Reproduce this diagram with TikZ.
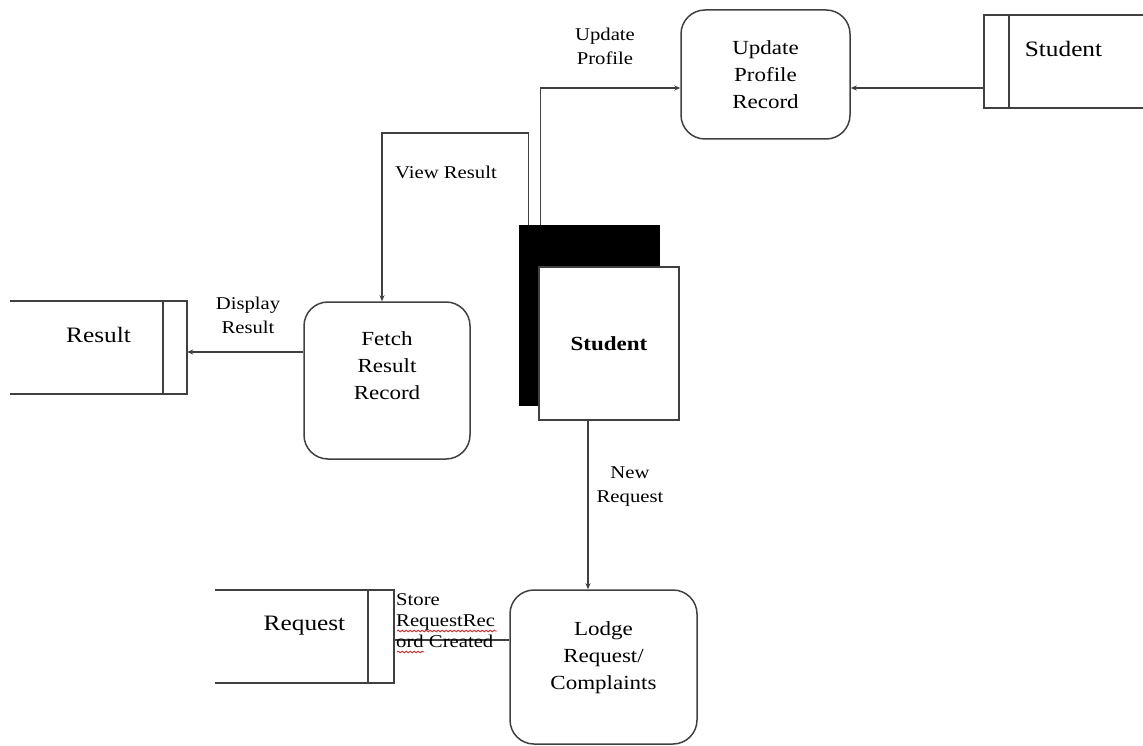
\documentclass[tikz,border=0pt]{standalone}
\usepackage{fontspec}
\setmainfont{Liberation Serif}[FakeStretch=1.15]
\usepackage{tikz}
\usetikzlibrary{
    positioning,
    arrows.meta,
    decorations.pathmorphing
}
\definecolor{LineGray}{RGB}{64,64,64}
\definecolor{SpellRed}{RGB}{220,40,40}

\begin{document}
\begin{tikzpicture}[
    x=1pt, y=-1pt,
    proc/.style={rectangle, draw=LineGray, line width=1.5pt, rounded corners=24pt, align=center, inner sep=0pt, font=\fontsize{20}{27}\selectfont},
    store/.style={rectangle, inner sep=0pt, minimum height=93pt, text depth=26pt, font=\fontsize{22}{26}\selectfont},
    storeline/.style={draw=LineGray, line width=1.5pt},
    flow/.style={draw=LineGray, line width=1.3pt, -{Stealth[length=6pt,width=5pt]}},
    link/.style={draw=LineGray, line width=1.3pt},
    lbl/.style={align=center, inner sep=0pt, font=\fontsize{18}{24}\selectfont},
    spell/.style={draw=SpellRed, line width=0.8pt, decorate, decoration={snake, amplitude=0.9pt, segment length=4pt}},
]
\useasboundingbox (0,0) rectangle (1143,746);

% processes
\node[proc, minimum width=169pt, minimum height=129pt] (upd) at (765.5,74.5) {Update\\Profile\\Record};
\node[proc, minimum width=166pt, minimum height=157pt, text depth=29pt] (fetch) at (387,380.5) {Fetch\\Result\\Record};
\node[proc, minimum width=187pt, minimum height=154pt, text depth=23pt] (lodge) at (603.5,667) {Lodge\\Request/\\Complaints};

% data stores
\node[store, minimum width=177pt] (result) at (98.5,347.5) {Result};
\node[store, minimum width=179pt] (req) at (304.5,636.5) {Request};
\node[store, minimum width=159pt] (stu) at (1063.5,61.5) {Student};

\draw[storeline] (result.north west) -- (result.north east) -- (result.south east) -- (result.south west);
\draw[storeline] ([xshift=-24pt]result.north east) -- ([xshift=-24pt]result.south east);
\draw[storeline] (req.north west) -- (req.north east) -- (req.south east) -- (req.south west);
\draw[storeline] ([xshift=-26pt]req.north east) -- ([xshift=-26pt]req.south east);
\draw[storeline] (stu.north east) -- (stu.north west) -- (stu.south west) -- (stu.south east);
\draw[storeline] ([xshift=25pt]stu.north west) -- ([xshift=25pt]stu.south west);

% external entity
\node[rectangle, fill=black, inner sep=0pt, minimum width=141pt, minimum height=181pt] (shadow) at (589.5,315.5) {};
\node[rectangle, draw=LineGray, fill=white, line width=1.5pt, inner sep=0pt, minimum width=140pt, minimum height=153pt, font=\fontsize{20}{24}\selectfont\bfseries] (student) at (609,343.5) {Student};

% flows
\coordinate (vrbend) at (382,133);
\draw[flow] ([xshift=10pt]shadow.north west) |- (vrbend) -- (vrbend |- fetch.north);
\draw[flow] ([xshift=22pt]shadow.north west) |- ([yshift=-13.5pt]upd.west);
\draw[flow] ([yshift=-26.5pt]stu.west) -- ([yshift=-13.5pt]upd.east);
\draw[flow] ([yshift=28.5pt]fetch.west) -- ([yshift=-4.5pt]result.east);
\draw[flow] ([xshift=-21pt]student.south) -- ([xshift=-15.5pt]lodge.north);
\draw[link] ([yshift=27pt]lodge.west) -- ([yshift=-3.5pt]req.east);

% labels
\node[lbl] (lupd) at (605,46) {Update\\Profile};
\node[lbl] (lview) at (446,172) {View Result};
\node[lbl] (ldisp) at (248,315) {Display\\Result};
\node[lbl] (lnew) at (630,487) {New\\Request};
\node[lbl, align=left, anchor=west, font=\fontsize{18}{21}\selectfont] (lstore) at (396,621) {Store\\RequestRec\\ord Created};
\draw[spell] (397,631) -- (497,631);
\draw[spell] (397,652) -- (424,652);
\end{tikzpicture}
\end{document}
